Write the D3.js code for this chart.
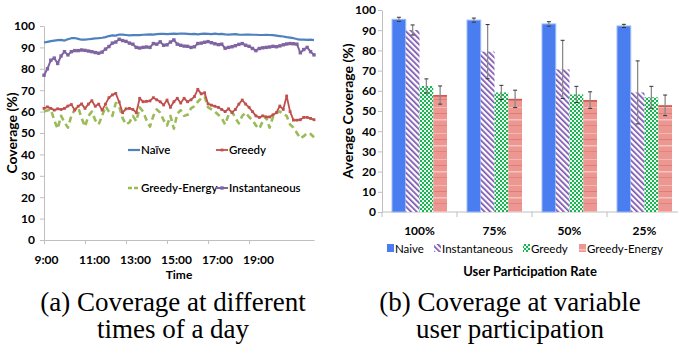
<!DOCTYPE html>
<html>
<head>
<meta charset="utf-8">
<script src="https://cdn.jsdelivr.net/npm/d3@7"></script>
<style>
  body { margin: 0; background: #fff; }
  svg { display: block; font-family: Lato, "Open Sans", sans-serif; }
  svg text.caption { font-family: "Liberation Serif", "Times New Roman", Tinos, "Nimbus Roman", "DejaVu Serif", serif; }
</style>
</head>
<body>
<div id="chart"></div>
<script>
// ---- (a) coverage over the day, one value per 10-minute slot from 9:00
const timeLabels = ["9:00", "11:00", "13:00", "15:00", "17:00", "19:00"];
const slotsPerLabel = 12;

const naive = [92.3, 92.6, 92.9, 93.2, 93.4, 93.5, 93.2, 93.8, 94.3, 94.4,
  94.0, 93.6, 93.6, 93.8, 94.0, 94.2, 94.3, 94.5, 94.8, 95.3,
  95.6, 95.5, 96.0, 96.0, 95.8, 95.6, 95.7, 95.8, 95.7, 95.9,
  96.0, 96.1, 96.0, 96.2, 96.3, 96.3, 96.2, 96.3, 96.4, 96.3,
  96.5, 96.4, 96.3, 96.2, 96.3, 96.1, 96.3, 96.4, 96.3, 96.2,
  96.4, 96.2, 96.3, 96.1, 96.0, 96.1, 96.2, 96.0, 95.9, 96.0,
  96.0, 95.9, 95.9, 95.8, 95.8, 95.9, 95.8, 95.7, 95.5, 95.3,
  95.1, 94.8, 94.6, 94.3, 93.9, 93.6, 93.6, 93.5, 93.6, 93.4];

const greedy = [61.5, 62.2, 61.5, 60.7, 61.3, 61.0, 61.5, 62.6, 63.3, 60.7,
  62.5, 63.6, 61.5, 63.5, 65.1, 62.5, 63.5, 60.7, 63.5, 66.5,
  67.8, 68.5, 64.5, 59.5, 61.3, 61.5, 61.0, 59.5, 66.2, 64.6,
  64.8, 65.0, 66.5, 65.5, 64.6, 63.1, 65.4, 62.0, 64.6, 66.2,
  64.0, 66.2, 64.6, 65.5, 67.0, 70.4, 68.3, 68.8, 63.6, 63.0,
  62.5, 62.0, 61.0, 60.0, 61.3, 59.5, 61.0, 63.5, 65.4, 63.5,
  62.0, 60.0, 58.0, 57.3, 58.0, 57.5, 57.5, 58.5, 59.5, 62.6,
  61.0, 67.3, 60.0, 56.0, 56.0, 56.2, 57.3, 57.3, 56.8, 56.2];

const greedyEnergy = [60.0, 60.5, 61.0, 56.0, 52.0, 58.0, 55.0, 52.5, 58.0, 61.0,
  62.0, 57.0, 53.0, 58.0, 60.0, 56.0, 54.0, 58.0, 62.5, 60.0,
  58.0, 64.0, 62.5, 57.0, 54.0, 55.0, 58.0, 55.5, 62.0, 60.0,
  56.0, 53.0, 58.0, 61.0, 59.5, 56.0, 53.5, 58.0, 52.0, 59.0,
  60.7, 58.0, 58.5, 61.5, 62.5, 64.6, 66.2, 67.0, 62.0, 61.0,
  60.0, 58.5, 57.0, 54.0, 58.5, 60.0, 57.0, 54.5, 58.0, 59.5,
  57.5, 56.0, 53.5, 52.0, 55.5, 57.5, 52.5, 57.5, 59.5, 60.0,
  59.0, 58.0, 54.0, 52.5, 50.0, 47.5, 48.5, 50.0, 49.5, 48.0];

const instantaneous = [77.0, 80.0, 84.0, 85.0, 82.5, 86.0, 88.0, 86.5, 88.0, 88.5,
  88.5, 88.8, 88.6, 88.3, 88.0, 87.6, 87.3, 87.8, 89.2, 90.4,
  92.0, 92.5, 93.8, 93.2, 92.8, 92.0, 91.5, 90.0, 89.7, 90.0,
  90.2, 90.0, 91.8, 91.5, 92.6, 91.0, 91.2, 92.5, 93.5, 91.5,
  91.0, 90.6, 90.5, 90.0, 90.3, 91.8, 92.0, 92.4, 92.7, 92.2,
  91.7, 91.3, 91.5, 89.6, 90.0, 90.3, 90.8, 91.4, 91.8, 91.0,
  90.5, 89.5, 88.5, 89.5, 89.8, 90.0, 90.2, 90.5, 90.3, 90.7,
  91.2, 91.6, 91.8, 91.7, 91.5, 87.5, 89.0, 90.0, 88.0, 86.5];

// ---- (b) coverage at variable user participation
const rates = ["100%", "75%", "50%", "25%"];
const barNames = ["Naive", "Instantaneous", "Greedy", "Greedy-Energy"];
const barNaive = [95.4, 95.0, 93.1, 92.1];
const barInst = [90.1, 79.4, 70.6, 59.2];
const barGreedy = [62.4, 59.2, 58.2, 56.8];
const barEnergy = [57.9, 56.0, 55.4, 52.8];
const errNaive = [1.0, 1.0, 1.1, 0.8];
const errInst = [2.5, 13.4, 14.4, 15.6];
const errGreedy = [3.5, 3.5, 4.0, 5.4];
const errEnergy = [4.5, 4.3, 4.1, 5.1];

const width = 678, height = 347;
const axisGrey = "#bfbfbf";

const svg = d3.select("#chart").append("svg")
  .attr("width", width)
  .attr("height", height);
svg.append("rect").attr("width", width).attr("height", height).attr("fill", "#fff");

const defs = svg.append("defs");

// purple diagonal hatch
const hatch = defs.append("pattern")
  .attr("id", "hatch").attr("patternUnits", "userSpaceOnUse")
  .attr("width", 4).attr("height", 4)
  .attr("patternTransform", "rotate(-45)");
hatch.append("rect").attr("width", 4).attr("height", 4).attr("fill", "#fff");
hatch.append("rect").attr("width", 1.7).attr("height", 4).attr("fill", "#7a52b3");

// green checker
const check = defs.append("pattern")
  .attr("id", "check").attr("patternUnits", "userSpaceOnUse")
  .attr("width", 4).attr("height", 4);
check.append("rect").attr("width", 4).attr("height", 4).attr("fill", "#e9f7ee");
check.append("rect").attr("width", 2).attr("height", 2).attr("fill", "#1db354");
check.append("rect").attr("x", 2).attr("y", 2).attr("width", 2).attr("height", 2).attr("fill", "#1db354");

// salmon with faint horizontal streaks
const salmon = defs.append("pattern")
  .attr("id", "salmon").attr("patternUnits", "userSpaceOnUse")
  .attr("width", 14).attr("height", 26);
salmon.append("rect").attr("width", 14).attr("height", 26).attr("fill", "#ec9792");
[[3, 1, "#f4b8b3"], [9, 1, "#de7c76"], [15, 1.5, "#f6c4c0"], [21, 1, "#e2847e"]]
  .forEach(([y, h, c]) => salmon.append("rect").attr("y", y).attr("width", 14).attr("height", h).attr("fill", c));

function styleAxis(g) {
  g.attr("font-family", null).attr("font-size", null);
  g.select(".domain").attr("stroke", axisGrey);
  g.selectAll(".tick line").attr("stroke", axisGrey);
  g.selectAll(".tick text")
    .attr("fill", "#000")
    .style("font-size", "12px")
    .style("font-weight", "700");
}

// ================= (a) line chart =================
const xL = d3.scaleLinear().domain([0, naive.length - 1]).range([44, 314]);
const yL = d3.scaleLinear().domain([0, 100]).range([240, 26]);

svg.append("g")
  .attr("transform", "translate(44,0)")
  .call(d3.axisLeft(yL).tickValues(d3.range(0, 101, 10)).tickSize(4).tickSizeOuter(0).tickPadding(5))
  .call(styleAxis);

const gxL = svg.append("g")
  .attr("transform", "translate(0,240)")
  .call(d3.axisBottom(xL)
    .tickValues(timeLabels.map((_, i) => i * slotsPerLabel))
    .tickFormat((d, i) => timeLabels[i])
    .tickSize(4).tickSizeOuter(0).tickPadding(11))
  .call(styleAxis);
gxL.selectAll(".tick text").attr("dx", (d, i) => i === 0 ? 2 : 9);

const line = d3.line().x((d, i) => xL(i)).y(d => yL(d));

const lineSeries = [
  { name: "Greedy-Energy", values: greedyEnergy, color: "#9bbb59", width: 2.6, dash: "6,4", marker: 0 },
  { name: "Greedy", values: greedy, color: "#c0504d", width: 1.8, dash: null, marker: 1.4 },
  { name: "Instantaneous", values: instantaneous, color: "#8064a2", width: 2, dash: null, marker: 1.7 },
  { name: "Naïve", values: naive, color: "#4f81bd", width: 2.2, dash: null, marker: 0 }
];

lineSeries.forEach(s => {
  svg.append("path")
    .datum(s.values)
    .attr("fill", "none")
    .attr("stroke", s.color)
    .attr("stroke-width", s.width)
    .attr("stroke-dasharray", s.dash)
    .attr("stroke-linejoin", "round")
    .attr("d", line);
  if (s.marker) {
    svg.append("g").selectAll("rect")
      .data(s.values)
      .join("rect")
      .attr("x", (d, i) => xL(i) - s.marker)
      .attr("y", d => yL(d) - s.marker)
      .attr("width", s.marker * 2)
      .attr("height", s.marker * 2)
      .attr("fill", s.color);
  }
});

// left legend
const legL = [
  { s: lineSeries[3], x: 128, y: 150 },
  { s: lineSeries[1], x: 216, y: 150 },
  { s: lineSeries[0], x: 128, y: 188 },
  { s: lineSeries[2], x: 216, y: 188 }
];
legL.forEach(({ s, x, y }) => {
  svg.append("line")
    .attr("x1", x).attr("x2", x + 12).attr("y1", y).attr("y2", y)
    .attr("stroke", s.color).attr("stroke-width", s.width)
    .attr("stroke-dasharray", s.dash ? "4,2" : null);
  if (s.marker) {
    svg.append("rect").attr("x", x + 6 - s.marker).attr("y", y - s.marker)
      .attr("width", s.marker * 2).attr("height", s.marker * 2).attr("fill", s.color);
  }
  svg.append("text")
    .attr("x", x + 13).attr("y", y + 4)
    .style("font-size", "11.5px")
    .style("font-weight", "600")
    .text(s.name);
});

svg.append("text")
  .attr("transform", "translate(17,133) rotate(-90)")
  .attr("text-anchor", "middle")
  .style("font-size", "14px").style("font-weight", "700")
  .text("Coverage (%)");

svg.append("text")
  .attr("x", 179).attr("y", 279)
  .attr("text-anchor", "middle")
  .style("font-size", "12px").style("font-weight", "700")
  .text("Time");

// ================= (b) bar chart =================
const xR = d3.scaleBand().domain(rates).range([382, 682]).paddingInner(20 / 75).paddingOuter(10 / 75);
const sub = d3.scaleBand().domain(barNames).range([0, xR.bandwidth()]);
const yR = d3.scaleLinear().domain([0, 100]).range([212, 10]);

svg.append("g")
  .attr("transform", "translate(382,0)")
  .call(d3.axisLeft(yR).tickValues(d3.range(0, 101, 10)).tickSize(4).tickSizeOuter(0).tickPadding(2))
  .call(styleAxis);

svg.append("line")
  .attr("x1", 382).attr("x2", 682).attr("y1", 212).attr("y2", 212)
  .attr("stroke", axisGrey);
svg.append("g").selectAll("line")
  .data(d3.range(rates.length + 1))
  .join("line")
  .attr("x1", i => 382 + i * xR.step()).attr("x2", i => 382 + i * xR.step())
  .attr("y1", 212).attr("y2", 217)
  .attr("stroke", axisGrey);
svg.append("g").selectAll("text")
  .data(rates)
  .join("text")
  .attr("x", d => xR(d) + xR.bandwidth() / 2)
  .attr("y", 235)
  .attr("text-anchor", "middle")
  .style("font-size", "12px").style("font-weight", "700")
  .text(d => d);

const barSeries = [
  { name: "Naive", values: barNaive, err: errNaive, fill: "#4a7ef0", stroke: "#9dbcf6" },
  { name: "Instantaneous", values: barInst, err: errInst, fill: "url(#hatch)", stroke: "none" },
  { name: "Greedy", values: barGreedy, err: errGreedy, fill: "url(#check)", stroke: "none" },
  { name: "Greedy-Energy", values: barEnergy, err: errEnergy, fill: "url(#salmon)", stroke: "none" }
];

barSeries.forEach(s => {
  const g = svg.append("g");
  const bx = (d, i) => xR(rates[i]) + sub(s.name);
  g.selectAll("rect")
    .data(s.values)
    .join("rect")
    .attr("x", bx)
    .attr("y", d => yR(d))
    .attr("width", sub.bandwidth())
    .attr("height", d => yR(0) - yR(d))
    .attr("fill", s.fill)
    .attr("stroke", s.stroke)
    .attr("stroke-width", 1);
  if (s.name === "Greedy-Energy") {
    g.selectAll("line.top")
      .data(s.values)
      .join("line")
      .attr("class", "top")
      .attr("x1", bx).attr("x2", (d, i) => bx(d, i) + sub.bandwidth())
      .attr("y1", d => yR(d) + 0.8).attr("y2", d => yR(d) + 0.8)
      .attr("stroke", "#d4524c").attr("stroke-width", 1.6);
  }
  // error bars
  const cx = (d, i) => bx(d, i) + sub.bandwidth() / 2;
  s.values.forEach((v, i) => {
    const x = cx(v, i);
    const e = s.err[i];
    g.append("line")
      .attr("x1", x).attr("x2", x).attr("y1", yR(v + e)).attr("y2", yR(v - e))
      .attr("stroke", "#8a8a8a").attr("stroke-width", 1.3);
    [v + e, v - e].forEach(t => g.append("line")
      .attr("x1", x - 2).attr("x2", x + 2).attr("y1", yR(t)).attr("y2", yR(t))
      .attr("stroke", "#333").attr("stroke-width", 1));
  });
});

// right legend
const legR = [387, 434, 523, 579];
barSeries.forEach((s, i) => {
  svg.append("rect")
    .attr("x", legR[i]).attr("y", 244)
    .attr("width", 7).attr("height", 8)
    .attr("fill", s.fill);
  svg.append("text")
    .attr("x", legR[i] + 8).attr("y", 252.5)
    .style("font-size", "11.5px")
    .text(s.name);
});

svg.append("text")
  .attr("transform", "translate(353,111) rotate(-90)")
  .attr("text-anchor", "middle")
  .style("font-size", "14px").style("font-weight", "700")
  .text("Average Coverage (%)");

svg.append("text")
  .attr("x", 530).attr("y", 276)
  .attr("text-anchor", "middle")
  .style("font-size", "13px").style("font-weight", "700")
  .text("User Participation Rate");

// ================= captions =================
const captions = [
  { x: 173, lines: ["(a) Coverage at different", "times of a day"] },
  { x: 510, lines: ["(b) Coverage at variable", "user participation"] }
];
captions.forEach(c => {
  c.lines.forEach((t, i) => {
    svg.append("text")
      .attr("class", "caption")
      .attr("x", c.x).attr("y", 311 + i * 27)
      .attr("text-anchor", "middle")
      .style("font-size", "27px")
      .text(t);
  });
});
</script>
</body>
</html>
